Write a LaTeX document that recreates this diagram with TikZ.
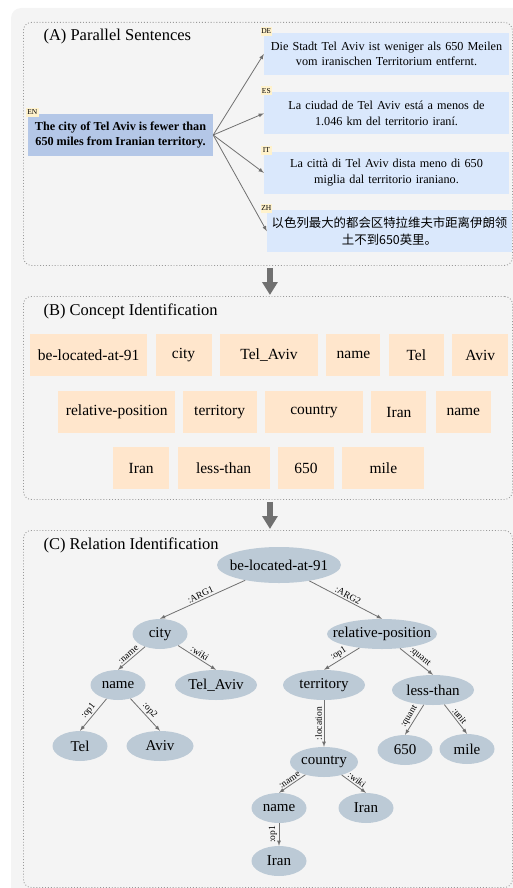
\documentclass[tikz,border=0pt]{standalone}
\usepackage{fontspec}
\setmainfont{Liberation Serif}
\newfontfamily\cjk{Noto Sans CJK SC}
\usetikzlibrary{positioning,shapes.geometric,arrows.meta}

\definecolor{bggray}{HTML}{F4F4F4}
\definecolor{dotgray}{HTML}{9A9A9A}
\definecolor{engblue}{HTML}{B4C7E7}
\definecolor{sentblue}{HTML}{DAE8FC}
\definecolor{tagyellow}{HTML}{FFF2CC}
\definecolor{conceptpeach}{HTML}{FFE6CC}
\definecolor{amrblue}{HTML}{BCCAD6}
\definecolor{arrowgray}{HTML}{707070}

\newcommand{\amrtext}[1]{\makebox[0pt]{#1}}

\begin{document}
\begin{tikzpicture}[x=1pt, y=-1pt]
    \tikzstyle{every node}=[font=\fontsize{15}{18}\selectfont]
    \tikzset{
        panel/.style={draw=dotgray, dotted, line width=0.9pt, rounded corners=8pt, anchor=north west, minimum width=489pt},
        title/.style={anchor=west, font=\fontsize{16.5}{20}\selectfont},
        sent/.style={fill=sentblue, minimum width=245pt, minimum height=42pt, text width=238pt, align=center, inner sep=0pt, font=\fontsize{12.2}{15.5}\selectfont},
        tag/.style={fill=tagyellow, inner sep=0.5pt, minimum width=11pt, minimum height=9pt, font=\fontsize{7.5}{8}\selectfont},
        concept/.style={fill=conceptpeach, minimum height=42pt, inner sep=0pt, font=\fontsize{15.5}{18}\selectfont},
        amr/.style={ellipse, fill=amrblue, inner sep=0pt, minimum height=30pt},
        edge/.style={draw=arrowgray, line width=0.8pt, -latex},
        lbl/.style={font=\fontsize{9.5}{10}\selectfont, inner sep=1.5pt},
        bigarrow/.style={draw=arrowgray, line width=6.5pt, -{Triangle[width=15pt, length=13pt]}}
        }
    \useasboundingbox (0,0) rectangle (513,888);
    \clip (0,0) rectangle (513,888);

    % background
    \fill[bggray, rounded corners=10pt] (11,8) rectangle (540,910);

    % panels
    \node (panelA) [panel, minimum height=243pt] at (23,22) {};
    \node (panelB) [panel, minimum height=203pt] at (23,296) {};
    \node (panelC) [panel, minimum height=357pt] at (23,530) {};
    \node (titleA) [title] at ([xshift=17pt, yshift=-15pt]panelA.north west) {(A) Parallel Sentences};
    \node (titleB) [title] at ([xshift=17pt, yshift=-15pt]panelB.north west) {(B) Concept Identification};
    \node (titleC) [title] at ([xshift=17pt, yshift=-15pt]panelC.north west) {(C) Relation Identification};

    \draw[bigarrow, shorten <=2pt, shorten >=1pt] ([xshift=2pt]panelA.south) -- ([xshift=2pt]panelB.north);
    \draw[bigarrow, shorten <=2pt, shorten >=1pt] ([xshift=2pt]panelB.south) -- ([xshift=2pt]panelC.north);

    % parallel sentences
    \node (en) [fill=engblue, minimum width=185pt, minimum height=42pt, align=center, inner sep=0pt, font=\fontsize{12.2}{15.5}\selectfont\bfseries] at (120.5,135) {The city of Tel Aviv is fewer than\\650 miles from Iranian territory.};
    \node (de) [sent] at (386.5,54) {Die Stadt Tel Aviv ist weniger als 650 Meilen\\vom iranischen Territorium entfernt.};
    \node (es) [sent, below=17pt of de] {La ciudad de Tel Aviv está a menos de\\1.046 km del territorio iraní.};
    \node (it) [sent, below=17pt of es] {La città di Tel Aviv dista meno di 650\\miglia dal territorio iraniano.};
    \node (zh) [sent, below=16pt of it, xshift=3pt, font=\cjk\fontsize{12.4}{16.5}\selectfont] {以色列最大的都会区特拉维夫市距离伊朗领\\土不到650英里。};

    \node (entag) [tag, minimum width=13pt] at ([xshift=4.5pt, yshift=1.5pt]en.north west) {EN};
    \node (detag) [tag] at ([xshift=2.5pt, yshift=1.5pt]de.north west) {DE};
    \node (estag) [tag] at ([xshift=2.5pt, yshift=1.5pt]es.north west) {ES};
    \node (ittag) [tag] at ([xshift=2.5pt, yshift=1.5pt]it.north west) {IT};
    \node (zhtag) [tag] at ([xshift=-0.5pt, yshift=1.5pt]zh.north west) {ZH};

    \draw[edge] (en.east) -- (de.west);
    \draw[edge] (en.east) -- (es.west);
    \draw[edge] (en.east) -- (it.west);
    \draw[edge] (en.east) -- (zh.west);

    % concepts
    \node (locate) [concept, minimum width=117pt, anchor=north west] at (30,334) {be-located-at-91};
    \node (city) [concept, minimum width=56pt, right=8pt of locate] {city};
    \node (telaviv) [concept, minimum width=98pt, right=8pt of city] {Tel\_Aviv};
    \node (name) [concept, minimum width=54pt, right=8pt of telaviv] {name};
    \node (tel) [concept, minimum width=55pt, right=8pt of name] {Tel};
    \node (aviv) [concept, minimum width=56pt, right=8pt of tel] {Aviv};

    \node (relpos) [concept, minimum width=117pt, anchor=north west] at (58,391) {relative-position};
    \node (territory) [concept, minimum width=74pt, right=7pt of relpos] {territory};
    \node (country) [concept, minimum width=98pt, right=8pt of territory] {country};
    \node (iran) [concept, minimum width=55pt, right=8pt of country] {Iran};
    \node (name2) [concept, minimum width=55pt, right=9pt of iran] {name};

    \node (iran2) [concept, minimum width=56pt, anchor=north west] at (113,447) {Iran};
    \node (lessthan) [concept, minimum width=92pt, right=8pt of iran2] {less-than};
    \node (num) [concept, minimum width=56pt, right=8pt of lessthan] {650};
    \node (mile) [concept, minimum width=82pt, right=8pt of num] {mile};

    % relation tree
    \node (root) [amr, minimum width=124pt, minimum height=36pt] at (279,565) {\amrtext{be-located-at-91}};
    \node (tcity) [amr, minimum width=55pt] at (160,634) {\amrtext{city}};
    \node (tname) [amr, minimum width=55pt] at (118,685) {\amrtext{name}};
    \node (ttelaviv) [amr, minimum width=82pt] at (216,685) {\amrtext{Tel\_Aviv}};
    \node (ttel) [amr, minimum width=55pt] at (80,746) {\amrtext{Tel}};
    \node (taviv) [amr, minimum width=67pt] at (160,746) {\amrtext{Aviv}};
    \node (trelpos) [amr, minimum width=110pt] at (382,634) {\amrtext{relative-position}};
    \node (tterritory) [amr, minimum width=82pt] at (324,685) {\amrtext{territory}};
    \node (tlessthan) [amr, minimum width=82pt] at (433,690) {\amrtext{less-than}};
    \node (tnum) [amr, minimum width=55pt] at (405,750) {\amrtext{650}};
    \node (tmile) [amr, minimum width=55pt] at (467,749) {\amrtext{mile}};
    \node (tcountry) [amr, minimum width=68pt] at (324,762) {\amrtext{country}};
    \node (tname2) [amr, minimum width=55pt] at (279,808) {\amrtext{name}};
    \node (tiran) [amr, minimum width=55pt] at (366,808) {\amrtext{Iran}};
    \node (tiran2) [amr, minimum width=55pt] at (279,861) {\amrtext{Iran}};

    \draw[edge] (root) -- node[lbl, above, sloped] {:ARG1} (tcity.north);
    \draw[edge] (root) -- node[lbl, above, sloped] {:ARG2} (trelpos.north);
    \draw[edge] (tcity) -- node[lbl, above, sloped] {:name} (tname.north);
    \draw[edge] (tcity) -- node[lbl, above, sloped] {:wiki} (ttelaviv.north);
    \draw[edge] (tname) -- node[lbl, above, sloped] {:op1} (ttel.north);
    \draw[edge] (tname) -- node[lbl, above, sloped] {:op2} (taviv.north);
    \draw[edge] (trelpos) -- node[lbl, above, sloped] {:op1} (tterritory.north);
    \draw[edge] (trelpos) -- node[lbl, above, sloped] {:quant} (tlessthan.north);
    \draw[edge] (tterritory) -- node[lbl, above, rotate=90] {:location} (tcountry.north);
    \draw[edge] (tlessthan) -- node[lbl, above, sloped] {:quant} (tnum.north);
    \draw[edge] (tlessthan) -- node[lbl, above, sloped] {:unit} (tmile.north);
    \draw[edge] (tcountry) -- node[lbl, above, sloped] {:name} (tname2.north);
    \draw[edge] (tcountry) -- node[lbl, above, sloped] {:wiki} (tiran.north);
    \draw[edge] (tname2) -- node[lbl, above, rotate=90] {:op1} (tiran2.north);
\end{tikzpicture}
\end{document}
